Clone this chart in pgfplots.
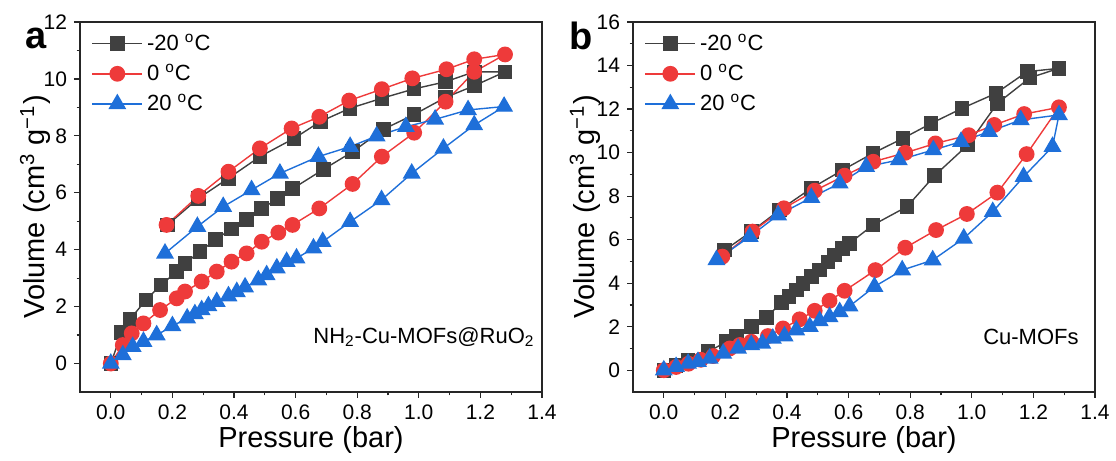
\documentclass[border=0pt]{standalone}
\usepackage{fontspec}
\setmainfont{Liberation Sans}
\usepackage{pgfplots}
\pgfplotsset{compat=1.18}
\definecolor{cK}{HTML}{404040}
\definecolor{cR}{HTML}{EE3A3A}
\definecolor{cB}{HTML}{1E6FD9}
\pgfplotsset{
 myaxis/.style={
  scale only axis, width=231pt, height=185pt,
  xmin=-0.1, xmax=1.4,
  xtick={0,0.2,0.4,0.6,0.8,1.0,1.2,1.4},
  xticklabel style={/pgf/number format/.cd, fixed, fixed zerofill, precision=1},
  minor x tick num=1, minor y tick num=1,
  tick align=outside, xtick pos=bottom, ytick pos=left,
  major tick length=3pt, minor tick length=1.7pt,
  axis line style={line width=0.75pt, color=black!85},
  every tick/.style={black!85, line width=0.6pt},
  tick label style={font=\fontsize{10.5}{12}\selectfont},
  label style={font=\fontsize{14.5}{16}\selectfont},
  /pgf/number format/assume math mode=true,
  xlabel={Pressure (bar)},
  ylabel={Volume (cm\textsuperscript{3} g\textsuperscript{−1})},
  xlabel style={at={(axis description cs:0.5,-0.13)}, anchor=center},
  legend style={draw=none, fill=none, at={(0.02,0.985)}, anchor=north west,
    font=\fontsize{11}{13}\selectfont, row sep=1.5pt, inner sep=1pt},
  legend cell align=left,
  legend image code/.code={\draw[mark repeat=2,mark phase=2] plot coordinates {(0pt,0pt) (12.5pt,0pt) (25pt,0pt)};},
 },
 sK/.style={color=cK, line width=0.7pt, mark=square*, mark size=3.3pt, mark options={solid, fill=cK, draw=cK}},
 sR/.style={color=cR, line width=0.7pt, mark=*, mark size=3.6pt, mark options={solid, fill=cR, draw=cR}},
 sB/.style={color=cB, line width=0.7pt, mark=triangle*, mark size=4.5pt, mark options={solid, fill=cB, draw=cB}},
}
\begin{document}
\begin{tikzpicture}
\begin{axis}[myaxis, at={(40pt,34.5pt)}, anchor=south west,
  ymin=-1, ymax=12, ytick={0,2,4,6,8,10,12},
  ylabel style={at={(axis description cs:-0.097,0.5)}, anchor=center}]
\addplot[sK] coordinates {(0,0) (0.035,1.08) (0.062,1.55) (0.114,2.23) (0.163,2.76) (0.214,3.23) (0.241,3.52) (0.29,3.93) (0.34,4.36) (0.392,4.73) (0.441,5.07) (0.49,5.44) (0.541,5.79) (0.59,6.14) (0.69,6.82) (0.785,7.44) (0.885,8.23) (0.985,8.75) (1.087,9.35) (1.18,9.76) (1.28,10.25) (1.18,10.25) (1.087,9.9) (0.985,9.65) (0.88,9.32) (0.777,8.97) (0.68,8.5) (0.595,7.91) (0.484,7.27) (0.382,6.51) (0.284,5.8) (0.184,4.87)};
\addlegendentry{-20 \textsuperscript{o}C}
\addplot[sR] coordinates {(0,0) (0.039,0.65) (0.068,1.06) (0.106,1.41) (0.16,1.88) (0.214,2.29) (0.241,2.53) (0.295,2.88) (0.344,3.23) (0.392,3.58) (0.441,3.87) (0.49,4.28) (0.544,4.6) (0.59,4.87) (0.677,5.45) (0.785,6.31) (0.88,7.27) (0.985,8.11) (1.087,9.2) (1.18,10.25) (1.28,10.86) (1.18,10.69) (1.09,10.34) (0.979,10.02) (0.88,9.64) (0.774,9.24) (0.677,8.67) (0.587,8.26) (0.484,7.56) (0.382,6.74) (0.284,5.89) (0.181,4.87)};
\addlegendentry{0 \textsuperscript{o}C}
\addplot[sB] coordinates {(0,0) (0.039,0.3) (0.071,0.59) (0.106,0.77) (0.149,1.0) (0.2,1.32) (0.248,1.59) (0.273,1.74) (0.295,1.88) (0.317,2.02) (0.344,2.17) (0.382,2.37) (0.409,2.52) (0.436,2.68) (0.479,2.93) (0.506,3.11) (0.539,3.35) (0.571,3.58) (0.603,3.7) (0.658,4.05) (0.688,4.28) (0.777,4.98) (0.879,5.75) (0.977,6.68) (1.08,7.56) (1.18,8.38) (1.277,9.03) (1.16,8.91) (1.053,8.58) (0.958,8.32) (0.863,7.99) (0.777,7.62) (0.674,7.27) (0.549,6.68) (0.457,6.1) (0.365,5.51) (0.281,4.81) (0.176,3.87)};
\addlegendentry{20 \textsuperscript{o}C}
\node[anchor=base east, font=\fontsize{11}{13}\selectfont, inner sep=0pt] at (axis cs:1.377,0.71) {NH\textsubscript{2}-Cu-MOFs@RuO\textsubscript{2}};
\end{axis}
\begin{axis}[myaxis, at={(316.5pt,34.5pt)}, anchor=south west,
  ymin=-1, ymax=16, ytick={0,2,4,6,8,10,12,14,16},
  ylabel style={at={(axis description cs:-0.104,0.5)}, anchor=center}]
\addplot[sK] coordinates {(0,0) (0.04,0.22) (0.079,0.47) (0.144,0.85) (0.204,1.31) (0.236,1.57) (0.284,2.0) (0.333,2.43) (0.382,3.1) (0.406,3.38) (0.43,3.68) (0.452,3.99) (0.479,4.3) (0.506,4.6) (0.533,4.98) (0.554,5.29) (0.581,5.6) (0.603,5.83) (0.679,6.67) (0.79,7.52) (0.879,8.94) (0.987,10.35) (1.083,12.26) (1.189,13.44) (1.283,13.87) (1.18,13.72) (1.078,12.72) (0.968,12.03) (0.868,11.34) (0.776,10.65) (0.679,9.97) (0.581,9.2) (0.479,8.36) (0.376,7.36) (0.284,6.37) (0.198,5.52)};
\addlegendentry{-20 \textsuperscript{o}C}
\addplot[sR] coordinates {(0,0) (0.04,0.15) (0.08,0.3) (0.12,0.48) (0.16,0.65) (0.214,1.0) (0.247,1.16) (0.284,1.31) (0.338,1.57) (0.387,1.92) (0.441,2.34) (0.49,2.73) (0.538,3.19) (0.587,3.65) (0.687,4.6) (0.784,5.63) (0.884,6.44) (0.984,7.18) (1.083,8.16) (1.178,9.93) (1.283,12.08) (1.17,11.77) (1.073,11.27) (0.99,10.8) (0.882,10.42) (0.784,9.99) (0.68,9.58) (0.587,8.94) (0.49,8.25) (0.39,7.44) (0.288,6.37) (0.19,5.22)};
\addlegendentry{0 \textsuperscript{o}C}
\addplot[sB] coordinates {(0,0) (0.04,0.16) (0.079,0.31) (0.111,0.39) (0.149,0.54) (0.193,0.77) (0.241,1.0) (0.284,1.16) (0.32,1.23) (0.354,1.46) (0.392,1.57) (0.43,1.84) (0.474,2.0) (0.506,2.27) (0.538,2.45) (0.571,2.68) (0.603,2.94) (0.684,3.84) (0.774,4.6) (0.873,5.06) (0.974,6.06) (1.068,7.28) (1.168,8.89) (1.262,10.27) (1.283,11.73) (1.159,11.5) (1.056,10.96) (0.965,10.5) (0.875,10.12) (0.763,9.66) (0.657,9.35) (0.571,8.59) (0.479,7.93) (0.371,7.13) (0.279,6.14) (0.171,5.07)};
\addlegendentry{20 \textsuperscript{o}C}
\node[anchor=base east, font=\fontsize{11}{13}\selectfont, inner sep=0pt] at (axis cs:1.348,1.19) {Cu-MOFs};
\end{axis}
\node[font=\bfseries\fontsize{19}{21}\selectfont] at (18pt,211.5pt) {a};
\node[font=\bfseries\fontsize{19}{21}\selectfont] at (290.5pt,212.5pt) {b};
\pgfresetboundingbox
\path[use as bounding box] (0,0) rectangle (558pt,230.5pt);
\end{tikzpicture}
\end{document}
